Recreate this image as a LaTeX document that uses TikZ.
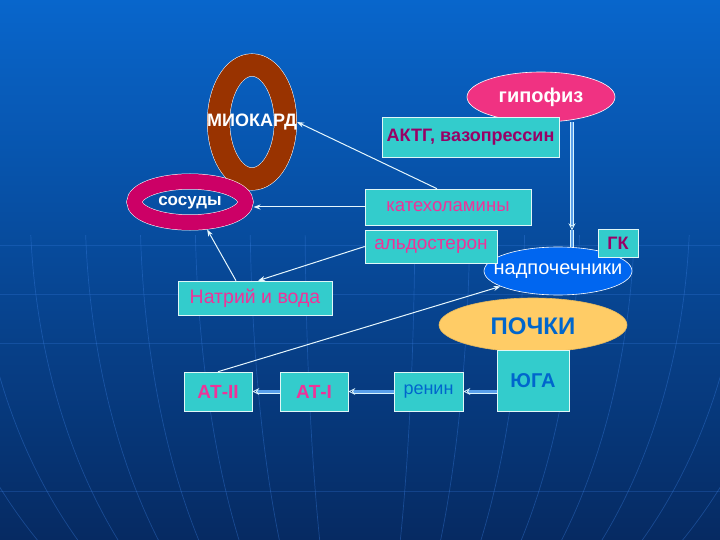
\documentclass[tikz,border=0pt]{standalone}
\usepackage{fontspec}
\setmainfont{Liberation Sans}
\usetikzlibrary{shapes.geometric,arrows.meta,calc}
\definecolor{bgtop}{RGB}{8,102,204}
\definecolor{bgmid}{RGB}{10,72,160}
\definecolor{bgbot}{RGB}{6,42,98}
\definecolor{turq}{RGB}{51,204,204}
\definecolor{pinktxt}{RGB}{238,51,153}
\definecolor{darkmag}{RGB}{153,0,102}
\definecolor{bluetxt}{RGB}{0,102,204}
\definecolor{myobrown}{RGB}{153,51,0}
\definecolor{sosred}{RGB}{204,0,102}
\definecolor{gippink}{RGB}{240,50,130}
\definecolor{nadblue}{RGB}{0,102,240}
\definecolor{pochki}{RGB}{255,204,102}
\definecolor{merid}{RGB}{60,130,230}
\definecolor{dblin}{RGB}{90,160,235}
\tikzset{
  tbox/.style={draw=white!85!turq, line width=0.6pt, fill=turq, inner sep=0pt, font=\fontsize{18}{20}\selectfont},
  oval/.style={ellipse, draw=white, line width=0.6pt, inner sep=0pt},
  otext/.style={inner sep=0pt},
  conn/.style={draw=white!90!cyan, line width=1pt, -{Stealth[length=7pt,width=5pt]}},
  dconn/.style={draw=white!85!cyan, line width=0.8pt, double=dblin, double distance=2.4pt, -{Stealth[length=7pt,width=7pt,open]}},
  dline/.style={draw=white!85!cyan, line width=0.8pt, double=dblin, double distance=2.4pt},
  mline/.style={draw=merid, line width=0.7pt, opacity=0.35}
}
\begin{document}
\begin{tikzpicture}[x=1pt,y=-1pt]
\useasboundingbox (0,0) rectangle (720,540);
% background
\shade[top color=bgtop, middle color=bgmid, bottom color=bgbot] (0,0) rectangle (720,540);
\begin{scope}
\clip (0,235) rectangle (720,540);
\foreach \r in {55,110,165,220,275,330,385,440,495} {
  \draw[mline] (360,200) ellipse [x radius=\r, y radius=500];
}
\draw[mline, opacity=0.25] (0,245) -- (720,245);
\draw[mline, opacity=0.25] (0,294) -- (720,294);
\draw[mline, opacity=0.25] (0,343) -- (720,343);
\draw[mline, opacity=0.25] (0,491) -- (720,491);
\end{scope}

% rings
\node[ellipse, draw=white, line width=0.5pt, double=myobrown, double distance=22pt,
      minimum width=67pt, minimum height=114pt, inner sep=0pt, outer sep=11.5pt] (myo) at (252,122) {};
\node[font=\fontsize{18}{20}\selectfont\bfseries, text=white, inner sep=0pt] (myotxt) at (252,122) {МИОКАРД};
\node[ellipse, draw=white, line width=0.5pt, double=sosred, double distance=15pt,
      minimum width=111pt, minimum height=41pt, inner sep=0pt, outer sep=8pt] (sos) at (190,202) {};
\node[font=\fontsize{17}{20}\selectfont\bfseries, text=white, inner sep=0pt] (sostxt) at (190,203) {сосуды};

% ovals
\node[oval, fill=gippink, minimum width=148pt, minimum height=50pt] (gip) at (541,97) {};
\node[otext, text=white, font=\fontsize{20}{22}\selectfont\bfseries] (giptxt) at (541,97) {гипофиз};
\node[oval, fill=pochki, draw=pochki!90!black, minimum width=188pt, minimum height=54pt] (poch) at (533,325) {};
\node[otext, text=bluetxt, font=\fontsize{24}{26}\selectfont\bfseries] (pochtxt) at (533,326) {ПОЧКИ};
\node[oval, fill=nadblue, minimum width=148pt, minimum height=48pt] (nad) at (558,271) {};
\node[otext, text=white, font=\fontsize{20}{22}\selectfont] (nadtxt) at (558,271) {надпочечники};

% boxes
\node[tbox, minimum width=177pt, minimum height=40pt, text=darkmag, font=\fontsize{18}{20}\selectfont\bfseries] (aktg) at (470.5,137) {АКТГ, вазопрессин};
\node[tbox, minimum width=166pt, minimum height=36pt, text=pinktxt, font=\fontsize{18.5}{20}\selectfont] (kat) at (448,207) {катехоламины};
\node[tbox, minimum width=132pt, minimum height=33pt, text=pinktxt, font=\fontsize{19}{20}\selectfont] (ald) at (431,246.5) {альдостерон};
\node[tbox, minimum width=40pt, minimum height=28pt, text=darkmag, font=\fontsize{18}{20}\selectfont\bfseries] (gk) at (618,243) {ГК};
\node[tbox, minimum width=154pt, minimum height=34pt, text=pinktxt, font=\fontsize{19.5}{20}\selectfont] (nat) at (255,298) {Натрий и вода};
\node[tbox, minimum width=72pt, minimum height=61pt, text=bluetxt, font=\fontsize{20}{22}\selectfont\bfseries] (yuga) at (533,380.5) {ЮГА};
\node[tbox, minimum width=69pt, minimum height=39pt, text=bluetxt] (renin) at (428.5,391.5) {ренин};
\node[tbox, minimum width=68pt, minimum height=39pt, text=pinktxt, font=\fontsize{19}{20}\selectfont\bfseries] (at1) at (314,391.5) {АТ-I};
\node[tbox, minimum width=68pt, minimum height=39pt, text=pinktxt, font=\fontsize{19}{20}\selectfont\bfseries] (at2) at (218,391.5) {АТ-II};

% connectors
\draw[conn] ($(kat.north)+(-11,0)$) -- (myo.east);
\draw[conn] (kat.west) -- (kat.west -| sos.east);
\draw[conn] ($(nat.north)+(-19,0)$) -- (sos.-58);
\draw[conn] (ald.west) -- ($(nat.north)+(3,0)$);
\draw[conn] (at2.north) -- (nad.195);

\coordinate (gipout) at ($(gip.south)+(31,0)$);
\coordinate (gipmid) at ($(gip.south)+(31,108)$);
\coordinate (nadin) at ($(nad.north)+(14,0)$);
\draw[dconn] (gipout) -- (gipmid);
\draw[dline] (gipmid) -- (nadin);

\draw[dconn] (yuga.west |- renin.east) -- (renin.east);
\draw[dconn] (renin.west) -- (at1.east);
\draw[dconn] (at1.west) -- (at2.east);
\end{tikzpicture}
\end{document}
